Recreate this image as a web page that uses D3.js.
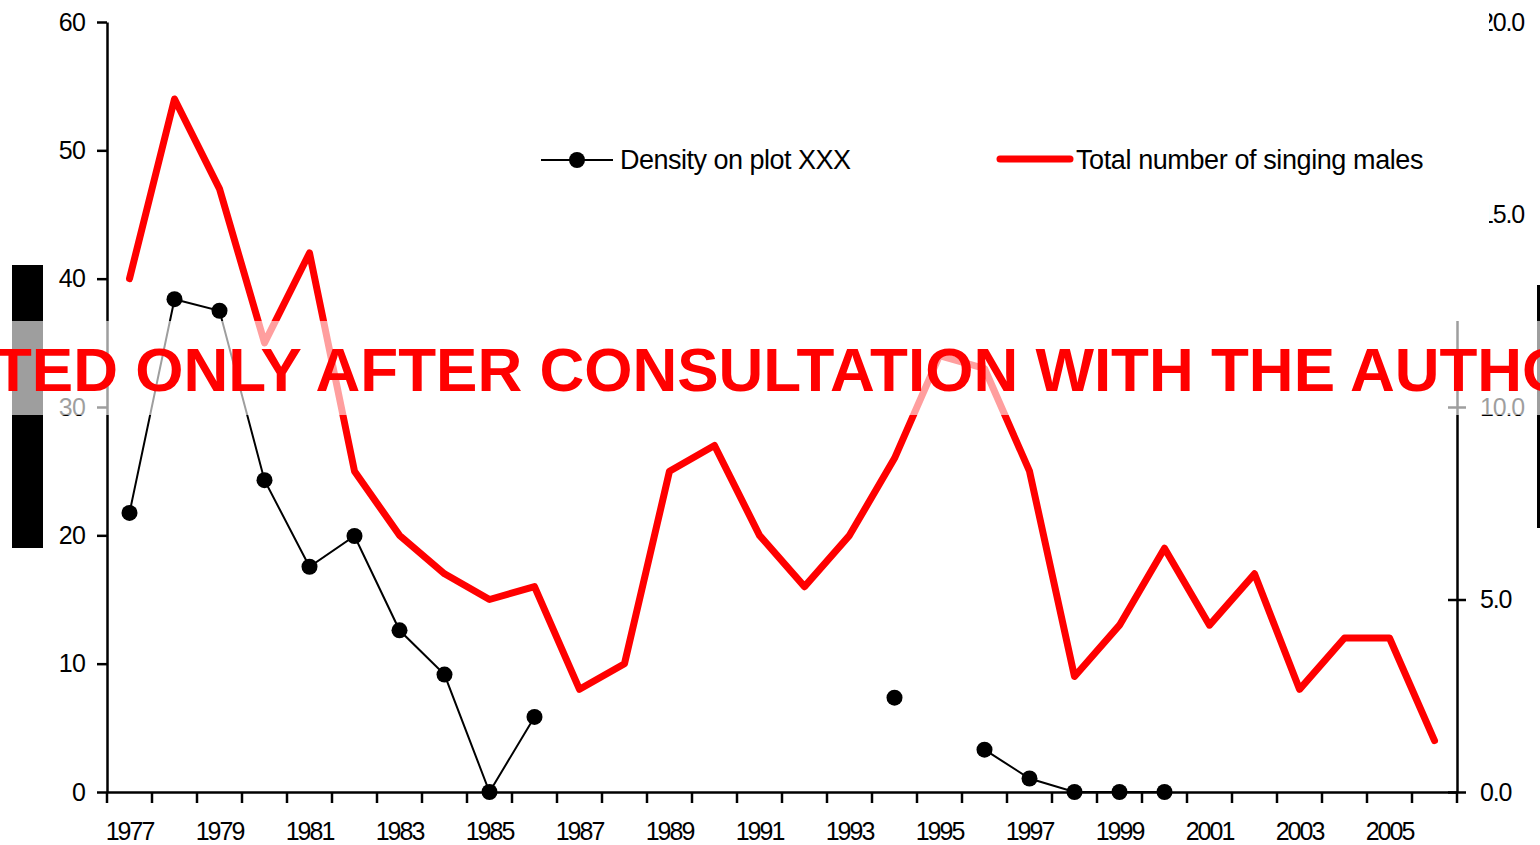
<!DOCTYPE html>
<html>
<head>
<meta charset="utf-8">
<script src="https://cdn.jsdelivr.net/npm/d3@7"></script>
<style>
  html, body { margin: 0; padding: 0; background: #fff; overflow: hidden; }
  svg { display: block; font-family: "Liberation Sans", Arial, sans-serif; }
</style>
</head>
<body>
<svg id="chart" width="1540" height="845"></svg>
<script>
// ---- data ----
const years = d3.range(1977, 2007);
const singingMales = [40, 54, 47, 35, 42, 25, 20, 17, 15, 16, 8, 10, 25, 27, 20, 16, 20, 26, 34, 33, 25, 9, 13, 19, 13, 17, 8, 12, 12, 4];
const density = [7.25, 12.8, 12.5, 8.1, 5.85, 6.65, 4.2, 3.05, 0, 1.95, null, null, null, null, null, null, null, 2.45, null, 1.1, 0.35, 0, 0, 0, null, null, null, null, null, null];
const leftTicks = [0, 10, 20, 30, 40, 50, 60];
const rightTicks = [0, 5, 10, 15, 20];
const yearLabels = years.filter(y => y % 2 === 1);
const seriesNames = ["Density on plot XXX", "Total number of singing males"];
const watermark = "TED ONLY AFTER CONSULTATION WITH THE AUTHOR";

// ---- layout ----
const svg = d3.select("#chart");
const L = 107, R = 1457, T = 22, B = 792;
const x = d3.scaleBand().domain(years).range([L, R]).padding(0);
const cx = y => x(y) + x.bandwidth() / 2;
const yL = d3.scaleLinear().domain([0, 60]).range([B, T]);
const yR = d3.scaleLinear().domain([0, 20]).range([B, T]);

// left axis
const gL = svg.append("g").attr("transform", `translate(${L},0)`)
  .call(d3.axisLeft(yL).tickValues(leftTicks).tickSize(10).tickPadding(12).tickSizeOuter(0).tickFormat(d3.format("d")));
gL.select(".domain").attr("stroke", "#000").attr("stroke-width", 2.5);
gL.selectAll(".tick line").attr("stroke", "#000").attr("stroke-width", 2.5);
gL.selectAll(".tick text").attr("font-size", 25).attr("letter-spacing", "-0.8px").attr("fill", "#000").attr("font-family", "Liberation Sans, Arial");

// right axis
const gR = svg.append("g").attr("transform", `translate(${R},0)`)
  .call(d3.axisRight(yR).tickValues(rightTicks).tickSize(9).tickPadding(14).tickSizeOuter(0).tickFormat(d3.format(".1f")));
gR.select(".domain").attr("stroke", "#000").attr("stroke-width", 2.5);
gR.selectAll(".tick line").attr("x1", -9).attr("x2", 9).attr("stroke", "#000").attr("stroke-width", 2.5);
gR.selectAll(".tick text").attr("font-size", 25).attr("letter-spacing", "-1.2px").attr("fill", "#000").attr("font-family", "Liberation Sans, Arial");

// bottom axis
const gB = svg.append("g").attr("transform", `translate(0,${B})`)
  .call(d3.axisBottom(x).tickValues(yearLabels).tickSize(0).tickPadding(30).tickSizeOuter(0));
gB.select(".domain").attr("stroke", "#000").attr("stroke-width", 2.5);
gB.selectAll(".tick text").attr("font-size", 25).attr("letter-spacing", "-2px").attr("fill", "#000").attr("font-family", "Liberation Sans, Arial");
gB.selectAll("line.bt").data(years.concat([null])).enter().append("line")
  .attr("class", "bt")
  .attr("x1", d => d === null ? R : x(d)).attr("x2", d => d === null ? R : x(d))
  .attr("y1", 0).attr("y2", 11)
  .attr("stroke", "#000").attr("stroke-width", 2.5);

// red line: total singing males (left axis)
const redLine = d3.line().x((d, i) => cx(years[i])).y(d => yL(d));
svg.append("path").datum(singingMales)
  .attr("d", redLine).attr("fill", "none").attr("stroke", "#ff0000")
  .attr("stroke-width", 7).attr("stroke-linejoin", "round").attr("stroke-linecap", "round");

// black line: density (right axis)
const blkLine = d3.line().defined(d => d !== null).x((d, i) => cx(years[i])).y(d => yR(d));
svg.append("path").datum(density)
  .attr("d", blkLine).attr("fill", "none").attr("stroke", "#000").attr("stroke-width", 2);
svg.append("g").selectAll("circle")
  .data(density.map((d, i) => ({ v: d, yr: years[i] })).filter(d => d.v !== null))
  .enter().append("circle")
  .attr("cx", d => cx(d.yr)).attr("cy", d => yR(d.v)).attr("r", 8).attr("fill", "#000");

// legend
const lg = svg.append("g");
lg.append("line").attr("x1", 541).attr("x2", 613).attr("y1", 160).attr("y2", 160).attr("stroke", "#000").attr("stroke-width", 2);
lg.append("circle").attr("cx", 577).attr("cy", 160).attr("r", 8).attr("fill", "#000");
lg.append("text").attr("x", 620).attr("y", 169).attr("font-size", 27).attr("letter-spacing", "-0.5px").text(seriesNames[0]);
lg.append("line").attr("x1", 1000).attr("x2", 1070).attr("y1", 159).attr("y2", 159).attr("stroke", "#ff0000").attr("stroke-width", 7).attr("stroke-linecap", "round");
lg.append("text").attr("x", 1076).attr("y", 169).attr("font-size", 27).attr("letter-spacing", "-0.4px").text(seriesNames[1]);

// cover that hides the upper part of the right axis and the first digit of its upper labels
svg.append("rect").attr("x", 1440).attr("y", 0).attr("width", 49).attr("height", 321).attr("fill", "#fff");

// side artifacts
svg.append("rect").attr("x", 12).attr("y", 265).attr("width", 31).attr("height", 283).attr("fill", "#000");
svg.append("rect").attr("x", 1537).attr("y", 285).attr("width", 3).attr("height", 243).attr("fill", "#000");

// watermark band
svg.append("rect").attr("x", 0).attr("y", 321).attr("width", 1540).attr("height", 94).attr("fill", "#fff").attr("opacity", 0.62);
svg.append("text").attr("x", -6).attr("y", 391).attr("font-size", 62).attr("font-weight", "bold")
  .attr("fill", "#ff0000").attr("font-family", "Liberation Sans, Arial").text(watermark);
</script>
</body>
</html>
